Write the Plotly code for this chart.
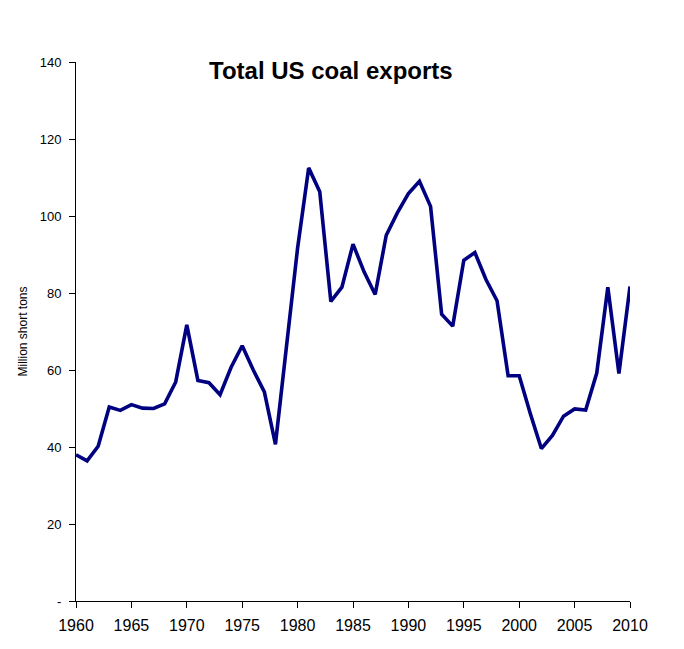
import plotly.graph_objects as go

years = list(range(1960, 2011))
exports = [38.0, 36.4, 40.2, 50.4, 49.5, 51.0, 50.1, 50.0, 51.2, 56.9,
           71.7, 57.3, 56.7, 53.6, 60.7, 66.3, 60.0, 54.3, 40.7, 66.0,
           91.7, 112.5, 106.3, 77.8, 81.5, 92.7, 85.5, 79.6, 95.0, 100.8,
           105.8, 109.0, 102.5, 74.5, 71.4, 88.5, 90.5, 83.5, 78.0, 58.5,
           58.5, 48.7, 39.6, 43.0, 48.0, 49.9, 49.6, 59.2, 81.5, 59.1,
           81.7]

y_ticks = [0, 20, 40, 60, 80, 100, 120, 140]
y_labels = ['-', '20', '40', '60', '80', '100', '120', '140']
x_ticks = list(range(1960, 2011, 5))

# page body has an 8px margin, so the figure is a bit smaller than the window
W, H = 676, 641

fig = go.Figure()
fig.add_trace(go.Scatter(x=years, y=exports, mode='lines',
                         line=dict(color='#000080', width=3.6),
                         showlegend=False))

fig.update_layout(
    width=W, height=H,
    margin=dict(l=68, r=54, t=54, b=48),
    paper_bgcolor='white', plot_bgcolor='white',
    font=dict(family='Liberation Sans, Arial, sans-serif', color='black'),
    title=dict(text='<b>Total US coal exports</b>', font=dict(size=24, color='black'),
               x=0.46, xanchor='center', xref='paper',
               y=1 - 63 / H, yanchor='middle', yref='container'),
    xaxis=dict(range=[1960, 2010], tickvals=x_ticks, ticks='outside', ticklen=6,
               tickcolor='black', showline=True, linecolor='black', linewidth=1,
               showgrid=False, zeroline=False, tickfont=dict(size=16),
               ticklabelstandoff=4, automargin=False, fixedrange=True),
    yaxis=dict(range=[0, 140], tickvals=y_ticks, ticktext=y_labels,
               ticks='outside', ticklen=6, tickcolor='black', showline=True,
               linecolor='black', linewidth=1, showgrid=False, zeroline=False,
               tickfont=dict(size=13), ticklabelstandoff=5,
               title=dict(text='Million short tons', font=dict(size=12), standoff=9),
               automargin=False, fixedrange=True),
)

fig.write_html("out.html")
